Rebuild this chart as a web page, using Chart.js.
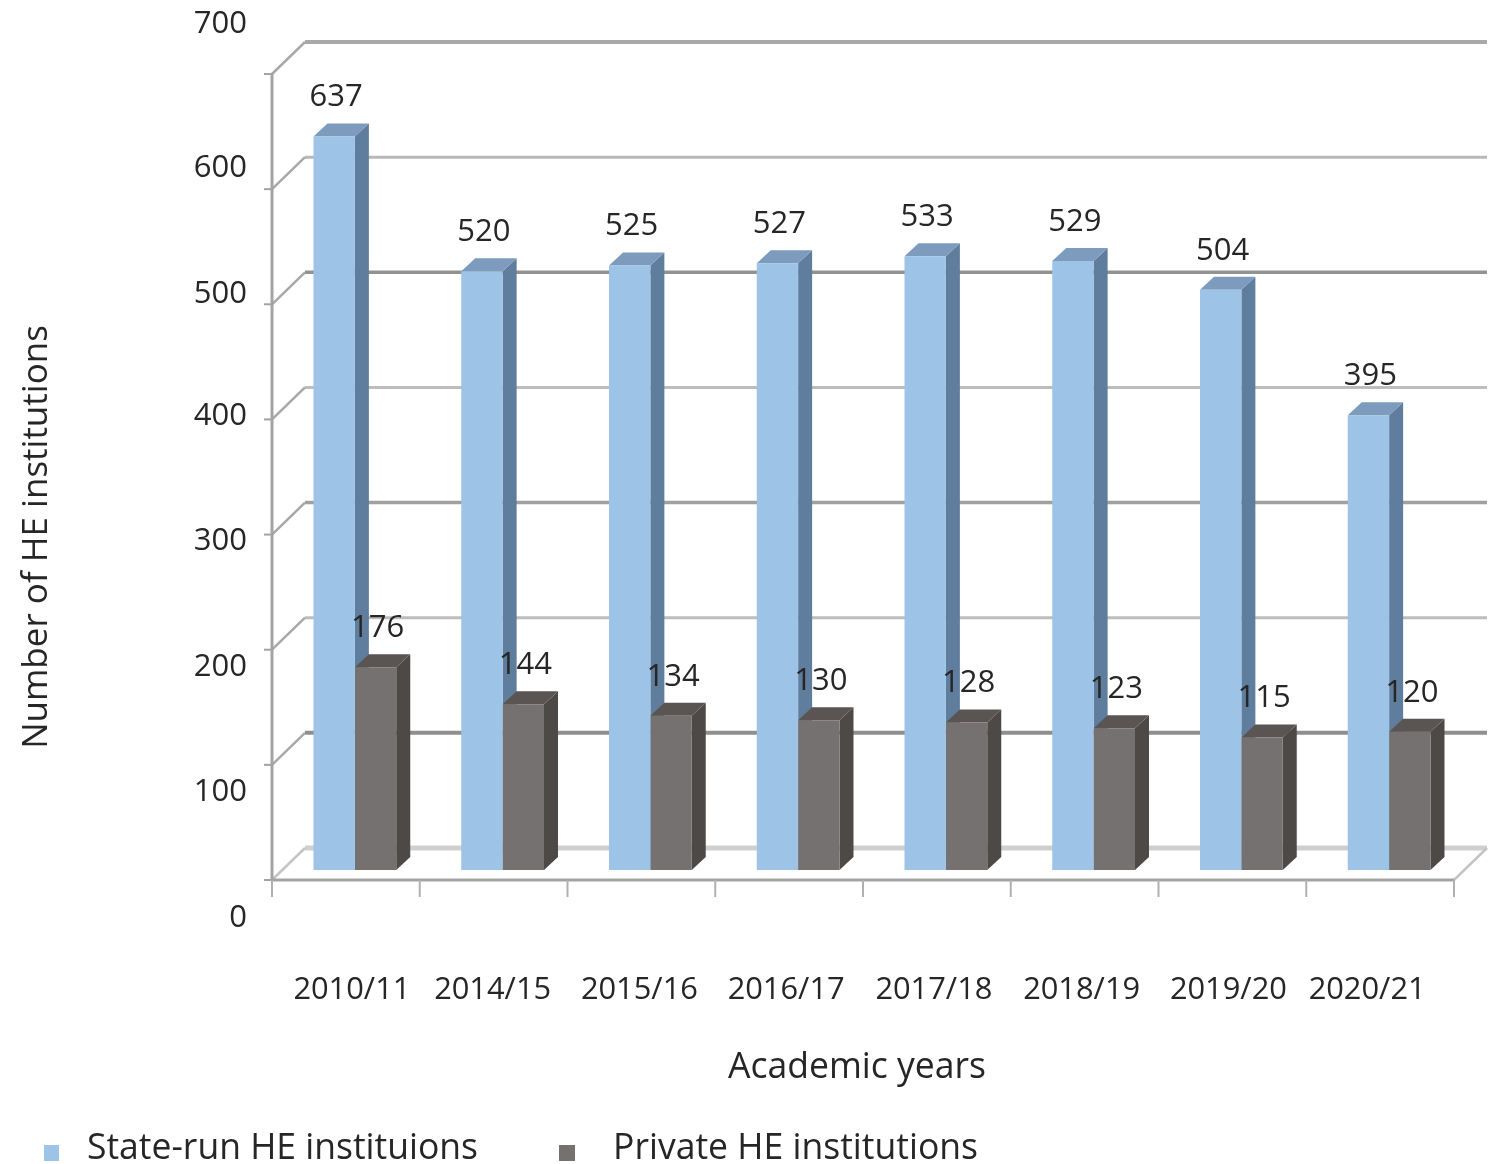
<!DOCTYPE html>
<html>
<head>
<meta charset="utf-8">
<title>HE institutions by academic year</title>
<script src="https://cdn.jsdelivr.net/npm/chart.js@4"></script>
<style>
  html, body { margin: 0; padding: 0; background: #fff; }
  canvas { display: block; }
</style>
</head>
<body>
<canvas id="heChart" width="1499" height="1164"></canvas>
<script>
const categories = ['2010/11', '2014/15', '2015/16', '2016/17', '2017/18', '2018/19', '2019/20', '2020/21'];
const stateRun = [637, 520, 525, 527, 533, 529, 504, 395];
const privateRun = [176, 144, 134, 130, 128, 123, 115, 120];
const stateLabel = 'State-run HE instituions';
const privateLabel = 'Private HE institutions';
const xTitle = 'Academic years';
const yTitle = 'Number of HE institutions';

// Pseudo-3D box geometry, in px
const FRONT = { dx: -9, dy: 10 };
const BACK = { dx: 24, dy: -22 };
const BAR_DEPTH = { dx: 14, dy: -13 };

// Axis label nudges, indexed by tick
const yLabelShift = [48, 37, 27, 17, 7, 0, -11, -40];
const xLabelShift = [-3, -10, -11, -12, -12, -12, -13, -22];

// Wall gridline strokes, indexed by tick
const gridColors = ['#cfcfcf', '#8f8f8f', '#bdbdbd', '#a0a0a0', '#bdbdbd', '#929292', '#b8b8b8', '#a8a8a8'];
const gridWidths = [5, 4, 3, 3.5, 3, 3.5, 3, 4];

const faceColors = [
  { front: '#9dc3e6', side: '#5f7d9c', top: '#7c9bbd' },
  { front: '#767171', side: '#4d4947', top: '#5a5553' }
];

const FONT = '"Open Sans", sans-serif';
const TEXT = '#262626';
const AXIS = '#a3a3a3';

function line(ctx, x1, y1, x2, y2, color, width) {
  ctx.strokeStyle = color;
  ctx.lineWidth = width;
  ctx.beginPath();
  ctx.moveTo(x1, y1);
  ctx.lineTo(x2, y2);
  ctx.stroke();
}

function poly(ctx, pts, color) {
  ctx.fillStyle = color;
  ctx.beginPath();
  pts.forEach((p, i) => (i ? ctx.lineTo(p[0], p[1]) : ctx.moveTo(p[0], p[1])));
  ctx.closePath();
  ctx.fill();
}

function text(ctx, str, x, y, size, align, maxWidth) {
  ctx.font = size + 'px ' + FONT;
  ctx.fillStyle = TEXT;
  ctx.textAlign = align;
  ctx.textBaseline = 'middle';
  if (maxWidth) ctx.fillText(str, x, y, maxWidth);
  else ctx.fillText(str, x, y);
}

// Back wall, side wall, floor and the front axis lines
const wallsPlugin = {
  id: 'walls',
  beforeDatasetsDraw(chart) {
    const { ctx, chartArea, scales } = chart;
    const yScale = scales.y;
    const fx0 = chartArea.left + FRONT.dx;
    const fx1 = chartArea.right + FRONT.dx;
    const bx0 = chartArea.left + BACK.dx;
    const bx1 = chartArea.right + BACK.dx;
    ctx.save();
    ctx.lineCap = 'butt';

    yScale.ticks.forEach((t, i) => {
      const py = yScale.getPixelForValue(t.value);
      const fy = py + FRONT.dy;
      const by = py + BACK.dy;
      line(ctx, bx0, by, bx1, by, gridColors[i], gridWidths[i]);
      line(ctx, fx0, fy, bx0, by, i === 0 ? '#c4c4c4' : '#a8a8a8', 2.5);
      line(ctx, fx0 - 8, fy, fx0, fy, AXIS, 2);
    });

    const floorFront = yScale.getPixelForValue(0) + FRONT.dy;
    const floorBack = yScale.getPixelForValue(0) + BACK.dy;
    line(ctx, fx1, floorFront, bx1, floorBack, '#c4c4c4', 2.5);
    line(ctx, fx0, yScale.getPixelForValue(yScale.max) + FRONT.dy, fx0, floorFront, AXIS, 3);
    line(ctx, fx0, floorFront, fx1, floorFront, AXIS, 3);

    const band = (chartArea.right - chartArea.left) / categories.length;
    for (let i = 0; i <= categories.length; i++) {
      const tx = fx0 + band * i;
      line(ctx, tx, floorFront, tx, floorFront + 17, '#b0b0b0', 2);
    }

    // Bar side and top faces; the library paints the front faces over these
    chart.data.datasets.forEach((ds, d) => {
      const colors = faceColors[d];
      chart.getDatasetMeta(d).data.forEach(bar => {
        const l = bar.x - bar.width / 2;
        const r = bar.x + bar.width / 2;
        const ddx = BAR_DEPTH.dx;
        const ddy = BAR_DEPTH.dy;
        poly(ctx, [[r, bar.y], [r + ddx, bar.y + ddy], [r + ddx, bar.base + ddy], [r, bar.base]], colors.side);
        poly(ctx, [[l, bar.y], [l + ddx, bar.y + ddy], [r + ddx, bar.y + ddy], [r, bar.y]], colors.top);
      });
    });
    ctx.restore();
  }
};

// Value labels, tick labels, axis titles and the legend row
const textPlugin = {
  id: 'chartText',
  afterDatasetsDraw(chart) {
    const { ctx, scales } = chart;
    ctx.save();

    chart.data.datasets.forEach((ds, d) => {
      chart.getDatasetMeta(d).data.forEach((bar, i) => {
        text(ctx, String(ds.data[i]), bar.x + 2, bar.y - 39, 31, 'center');
      });
    });

    scales.y.ticks.forEach((t, i) => {
      text(ctx, t.label, 247, scales.y.getPixelForValue(t.value) + yLabelShift[i], 31, 'right');
    });
    categories.forEach((c, i) => {
      text(ctx, c, scales.x.getPixelForValue(i) + xLabelShift[i], 990, 31, 'center', 117);
    });

    text(ctx, xTitle, 857, 1068, 36, 'center', 258);

    ctx.save();
    ctx.translate(37, 537);
    ctx.rotate(-Math.PI / 2);
    text(ctx, yTitle, 0, 0, 35, 'center', 424);
    ctx.restore();

    const ds = chart.data.datasets;
    ctx.fillStyle = ds[0].backgroundColor;
    ctx.fillRect(44, 1145, 15, 16);
    text(ctx, ds[0].label, 87, 1149, 36, 'left', 391);
    ctx.fillStyle = ds[1].backgroundColor;
    ctx.fillRect(559, 1145, 16, 16);
    text(ctx, ds[1].label, 613, 1149, 36, 'left', 365);

    ctx.restore();
  }
};

new Chart(document.getElementById('heChart'), {
  type: 'bar',
  data: {
    labels: categories,
    datasets: [
      { label: stateLabel, data: stateRun, backgroundColor: faceColors[0].front, borderWidth: 0 },
      { label: privateLabel, data: privateRun, backgroundColor: faceColors[1].front, borderWidth: 0 }
    ]
  },
  options: {
    responsive: false,
    animation: false,
    layout: { padding: { left: 281, right: 36, top: 64, bottom: 294 } },
    datasets: { bar: { categoryPercentage: 0.56, barPercentage: 1 } },
    plugins: { legend: { display: false }, tooltip: { enabled: false } },
    scales: {
      x: { display: false },
      y: { display: false, min: 0, max: 700, ticks: { stepSize: 100 } }
    }
  },
  plugins: [wallsPlugin, textPlugin]
});
</script>
</body>
</html>
